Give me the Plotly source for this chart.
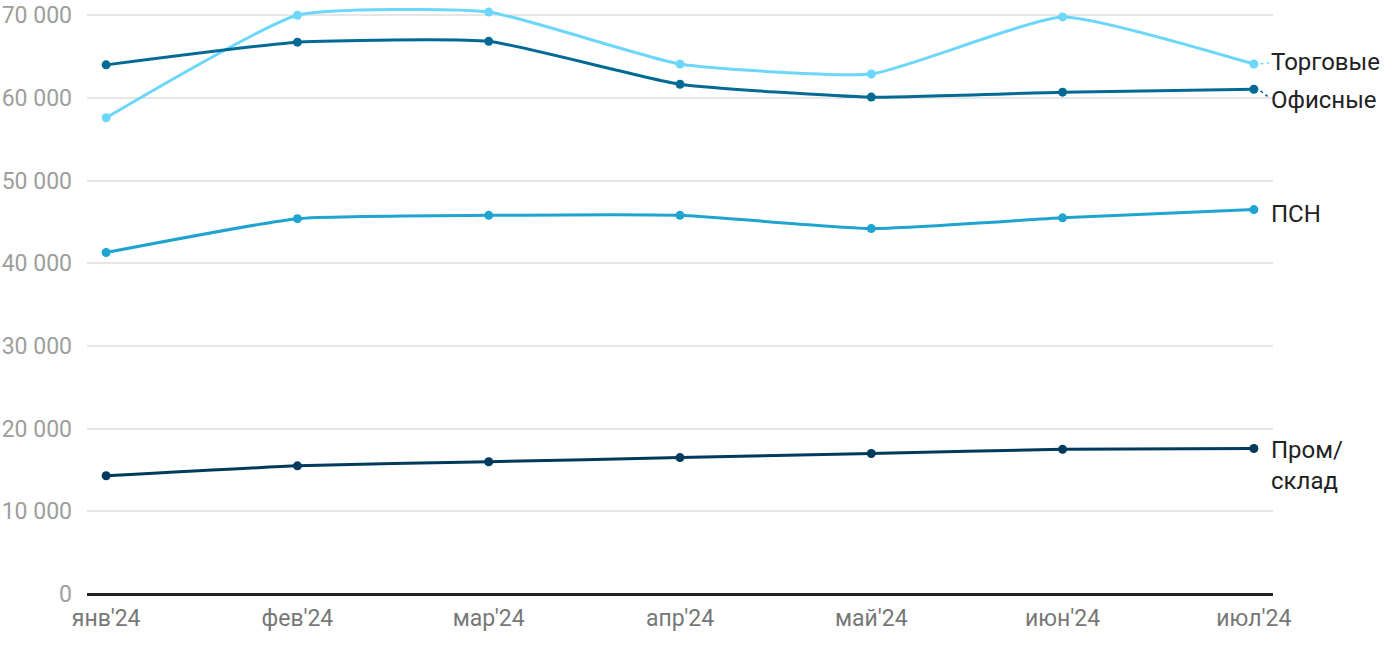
import plotly.graph_objects as go

months = ["янв'24", "фев'24", "мар'24", "апр'24", "май'24", "июн'24", "июл'24"]
trade = [57600, 70000, 70400, 64100, 62900, 69800, 64100]
office = [64000, 66750, 66850, 61650, 60100, 60700, 61050]
psn = [41300, 45400, 45800, 45800, 44200, 45500, 46500]
whs = [14300, 15500, 16000, 16500, 17000, 17500, 17600]

series_names = ["Торговые", "Офисные", "ПСН", "Пром/<br>склад"]
series_vals = [trade, office, psn, whs]
colors = ["#6dd6fb", "#006a94", "#1fa4d1", "#003a5c"]
label_y = [64300, 59700, 46000, 15500]

fig = go.Figure()
xs = list(range(len(months)))
for name, vals, c in zip(series_names, series_vals, colors):
    fig.add_trace(go.Scatter(
        x=xs, y=vals, mode="lines+markers", name=name,
        line=dict(color=c, width=3, shape="spline", smoothing=0.45),
        marker=dict(color=c, size=9), cliponaxis=False, showlegend=False))

annotations = []
for name, ly, c in zip(series_names, label_y, colors):
    annotations.append(dict(x=1, xref="paper", y=ly, yref="y", text=name,
                            showarrow=False, xanchor="left", yanchor="middle",
                            align="left", xshift=-4,
                            font=dict(family="Roboto", size=24, color="#222222")))
fig.update_layout(annotations=annotations)

# short dashed connectors for the two crowded labels
for vals, ly, c in [(trade, label_y[0], colors[0]), (office, label_y[1], colors[1])]:
    fig.add_shape(type="line", xref="x", yref="y", x0=6.035, y0=vals[-1] + (ly - vals[-1]) * 0.15,
                  x1=6.08, y1=vals[-1] + (ly - vals[-1]) * 0.75, line=dict(color=c, width=1.5, dash="dot"))

fig.update_xaxes(range=[-0.1, 6.1], tickvals=xs, ticktext=months, showgrid=False,
                 showline=False, zeroline=False, ticks="", ticklabelstandoff=8,
                 automargin=False,
                 tickfont=dict(family="Roboto", size=23, color="#777777"))
fig.update_yaxes(range=[0, 71000], tickvals=[0, 10000, 20000, 30000, 40000, 50000, 60000, 70000],
                 tickformat=",d", showgrid=True, automargin=False,
                 gridcolor="#e6e6e6", gridwidth=1.5, zeroline=True, zerolinecolor="#222222",
                 zerolinewidth=2.5, ticks="", ticklabelstandoff=14,
                 tickfont=dict(family="Roboto", size=23, color="#9e9e9e"))
fig.update_layout(
    width=1400, height=650, margin=dict(l=87, r=127, t=7, b=56),
    plot_bgcolor="white", paper_bgcolor="white",
    separators=". ", font=dict(family="Roboto"),
)
fig.write_html("out.html", config={"displayModeBar": False},
               post_script="document.body.style.margin='0';")
